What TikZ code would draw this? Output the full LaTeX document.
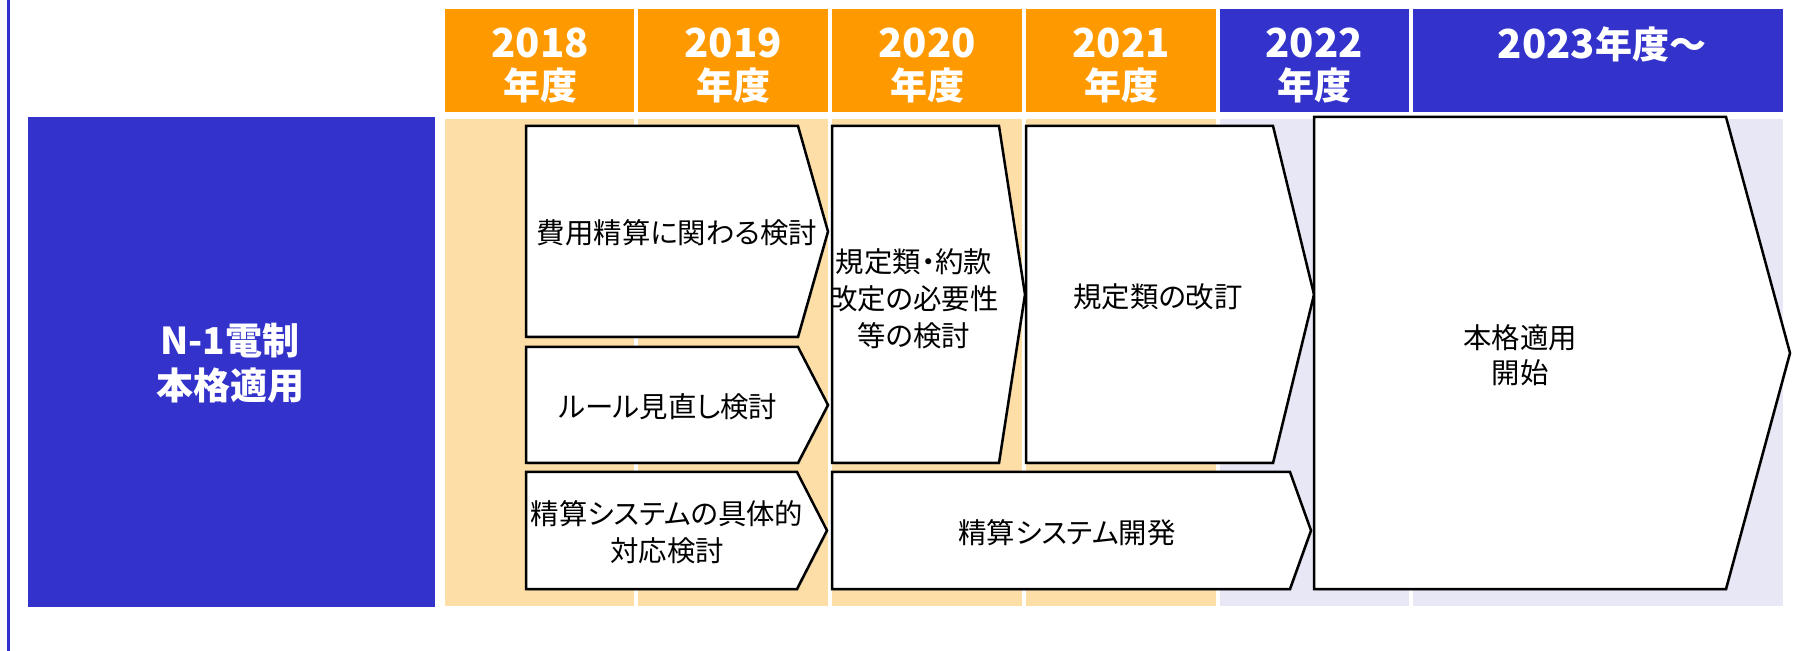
\documentclass[tikz,border=0pt]{standalone}
\usepackage{fontspec}
\setmainfont{Noto Sans CJK JP}[RawFeature=+palt]
\usetikzlibrary{shadows}
\definecolor{hdorange}{RGB}{255,153,0}
\definecolor{hdblue}{RGB}{51,51,204}
\definecolor{bgorange}{RGB}{253,222,166}
\definecolor{bglav}{RGB}{231,231,245}
\begin{document}
\begin{tikzpicture}[x=0.5pt, y=-0.5pt,
    stage/.style={draw=black, fill=white, line width=1.25pt, line join=miter,
        drop shadow={shadow xshift=0.6pt, shadow yshift=-0.8pt, opacity=0.35}},
    hdtext/.style={text=white, align=center, font=\bfseries\fontsize{18.5}{21}\selectfont},
    stagetext/.style={align=center, font=\fontsize{14.2}{18.5}\selectfont}]
    \useasboundingbox (0,0) rectangle (1814,651);

    % 左端の縦線
    \fill[hdblue] (6.5,0) rectangle (10,651);

    % 年度の見出し
    \fill[hdorange] (445,9) rectangle (634,112);
    \fill[hdorange] (638,9) rectangle (828,112);
    \fill[hdorange] (832,9) rectangle (1022,112);
    \fill[hdorange] (1026,9) rectangle (1216,112);
    \fill[hdblue] (1220,9) rectangle (1409,112);
    \fill[hdblue] (1413,9) rectangle (1783,112);
    \node[hdtext] (y2018) at (540,66) {{\fontsize{20}{21}\selectfont 2018}\\年度};
    \node[hdtext] (y2019) at (733,66) {{\fontsize{20}{21}\selectfont 2019}\\年度};
    \node[hdtext] (y2020) at (927,66) {{\fontsize{20}{21}\selectfont 2020}\\年度};
    \node[hdtext] (y2021) at (1121,66) {{\fontsize{20}{21}\selectfont 2021}\\年度};
    \node[hdtext] (y2022) at (1314,66) {{\fontsize{20}{21}\selectfont 2022}\\年度};
    \node[hdtext] (y2023) at (1602,44) {{\fontsize{20}{21}\selectfont 2023}年度～};

    % 背景の列
    \fill[bgorange] (445,119) rectangle (634,606);
    \fill[bgorange] (638,119) rectangle (828,606);
    \fill[bgorange] (832,119) rectangle (1022,606);
    \fill[bgorange] (1026,119) rectangle (1216,606);
    \fill[bglav] (1220,119) rectangle (1409,606);
    \fill[bglav] (1413,119) rectangle (1783,606);

    % 左の項目
    \fill[hdblue] (28,117) rectangle (435,607);
    \node[hdtext, font=\bfseries\fontsize{18.5}{22.5}\selectfont] (item) at (230,363) {N-1電制\\本格適用};

    % 各工程
    \draw[stage] (526,126) -- (798,126) -- (828,231.5) -- (798,337) -- (526,337) -- cycle;
    \draw[stage] (526,347) -- (798,347) -- (828,405) -- (798,463) -- (526,463) -- cycle;
    \draw[stage] (526,472) -- (797,472) -- (827,530.5) -- (797,589) -- (526,589) -- cycle;
    \draw[stage] (832,126) -- (999,126) -- (1025,294.5) -- (999,463) -- (832,463) -- cycle;
    \draw[stage] (1026,126) -- (1273,126) -- (1314,294.5) -- (1273,463) -- (1026,463) -- cycle;
    \draw[stage] (832,472) -- (1290,472) -- (1311,530.5) -- (1290,589) -- (832,589) -- cycle;
    \draw[stage] (1314,117) -- (1726,117) -- (1790,353) -- (1726,589) -- (1314,589) -- cycle;

    \node[stagetext] (cost) at (677,233) {費用精算に関わる検討};
    \node[stagetext] (rule) at (668,407) {ルール見直し検討};
    \node[stagetext] (sysplan) at (667,532) {精算システムの具体的\\対応検討};
    \node[stagetext] (rulecheck) at (914,299) {規定類・約款\\改定の必要性\\等の検討};
    \node[stagetext] (revise) at (1158,297) {規定類の改訂};
    \node[stagetext] (sysdev) at (1067,533) {精算システム開発};
    \node[stagetext, font=\fontsize{14.2}{17.5}\selectfont] (apply) at (1520,355) {本格適用\\開始};
\end{tikzpicture}
\end{document}
